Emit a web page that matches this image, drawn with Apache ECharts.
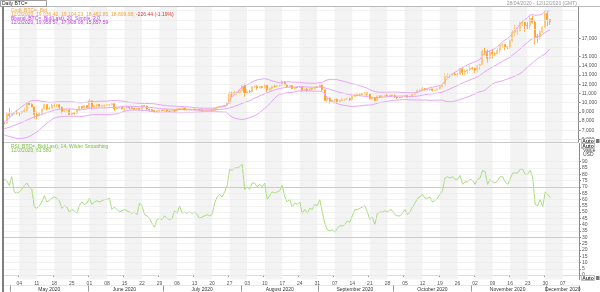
<!DOCTYPE html>
<html><head><meta charset="utf-8">
<script src="https://cdn.jsdelivr.net/npm/echarts@6/dist/echarts.min.js"></script>
<style>html,body{margin:0;padding:0;background:#fff}#c{width:600px;height:292px}</style>
</head><body><div id="c"></div>
<script>
// ---------- data ----------
const firstDay = '2020-04-28';
const dayCount = 230; // axis runs to 2020-12-13
const opens = [
7770,7760,8780,8620,8830,8970,8890,8880,9020,9150,
9980,9810,9540,8730,8570,8820,9320,9790,9310,9380,
9680,9730,9780,9510,9060,9170,9180,8720,8900,8840,
9200,9580,9430,9700,9450,10200,9520,9660,9800,9620,
9670,9750,9780,9780,9880,9320,9460,9470,9340,9430,
9530,9450,9390,9290,9360,9290,9690,9630,9300,9250,
9160,9010,9120,9190,9140,9230,9090,9070,9130,9090,
9340,9250,9430,9240,9290,9240,9300,9240,9260,9200,
9130,9160,9180,9210,9160,9390,9540,9610,9550,9710,
9930,11030,10940,11110,11110,11350,11800,11070,11230,11190,
11740,11770,11600,11760,11680,11880,11410,11580,11780,11770,
11860,11910,12280,11950,11750,11870,11520,11680,11650,11750,
11320,11470,11320,11530,11480,11710,11680,11970,11410,10250,
10510,10170,10280,10370,10130,10240,10360,10400,10440,10330,
10680,10790,10950,10940,10930,11080,10920,10420,10540,10240,
10740,10690,10730,10770,10710,10840,10780,10620,10570,10550,
10670,10790,10600,10670,10920,11060,11300,11380,11550,11430,
11430,11500,11330,11370,11510,11760,11920,12820,12970,12930,
13120,13030,13070,13640,13270,13460,13560,13780,13740,13550,
14020,14150,15590,15580,14830,15480,15330,15300,15700,16280,
16320,16070,15960,16730,17660,17800,17810,18680,18710,18420,
18370,19160,18740,17150,17140,17720,18180,19700,19036.42];
const highs = [
7790,8950,9460,9060,9010,9190,8950,9080,9400,10020,
10040,9920,9570,9030,8950,9340,9900,9840,9590,9880,
9950,9860,9840,9570,9260,9300,9310,8980,9010,9220,
9620,9610,9740,9700,10430,10230,9690,9880,9850,9740,
9800,9800,9870,9970,9950,9550,9490,9490,9500,9580,
9560,9480,9440,9400,9410,9750,9700,9680,9330,9280,
9200,9190,9230,9200,9300,9260,9120,9190,9140,9360,
9360,9460,9440,9310,9300,9340,9340,9280,9270,9210,
9190,9200,9240,9220,9410,9550,9630,9640,9730,10090,
11240,11180,11320,11180,11430,11860,12060,11470,11400,11790,
11900,11900,11800,11800,12070,11940,11630,11790,11930,11950,
11940,12430,12340,12030,11900,11880,11690,11700,11800,11750,
11530,11580,11550,11580,11720,11770,12070,11980,11430,10630,
10570,10340,10400,10440,10350,10500,10410,10480,10550,10790,
10930,11100,11040,11030,11180,11080,10990,10560,10550,10760,
10770,10790,10800,10950,10860,10850,10930,10660,10600,10690,
10800,10800,10690,10950,11110,11490,11440,11720,11560,11540,
11630,11540,11400,11530,11820,11990,13200,13180,13030,13160,
13340,13240,13770,13850,13620,13680,14090,13890,13810,14070,
14240,15750,15960,15770,15650,15830,15460,15960,16340,16480,
16330,16120,16880,17860,18480,18150,18800,18950,18750,18770,
19420,19480,18920,17460,17880,18320,19860,19920,19104.23];
const lows = [
7660,7740,8420,8620,8760,8710,8540,8790,8950,9040,
9720,9520,8270,8200,8560,8790,9270,9140,9230,9330,
9470,9490,9300,8820,8940,9080,8700,8640,8700,8810,
9110,9330,9350,9410,9410,9270,9400,9460,9580,9560,
9380,9640,9570,9690,9100,9230,9350,9250,8990,9370,
9260,9280,9240,9190,9280,9280,9600,9240,9010,9040,
8870,8950,9020,9090,9090,8970,9040,9050,8930,9060,
9220,9230,9170,9120,9190,9160,9200,9110,9170,9010,
9090,9120,9130,9090,9150,9290,9480,9480,9540,9690,
9920,10610,10880,10840,10990,11230,10650,11000,11050,11100,
11600,11370,11550,11550,11520,11140,11160,11280,11660,11710,
11700,11800,11880,11600,11680,11510,11400,11540,11620,11160,
11260,11170,11290,11440,11470,11600,11650,11200,10180,9960,
9880,10050,9910,9900,10000,10200,10200,10300,10210,10250,
10640,10690,10740,10810,10900,10780,10370,10360,10160,10210,
10560,10650,10640,10680,10640,10680,10530,10380,10520,10520,
10630,10540,10570,10540,10830,11050,11250,11250,11300,11280,
11300,11220,11300,11350,11420,11690,11900,12720,12730,12900,
12920,12790,13060,12950,12990,13130,13430,13610,13220,13290,
13530,14100,15200,14350,14720,14810,15090,15290,15440,15990,
15700,15800,15880,16570,17220,17340,17760,18340,17700,18000,
18020,18580,16330,16480,16880,17560,18180,18330,18462.85];
const closes = [
7760,8780,8620,8830,8970,8890,8880,9020,9150,9980,
9810,9540,8730,8570,8820,9320,9790,9310,9380,9680,
9730,9780,9510,9060,9170,9180,8720,8900,8840,9200,
9580,9430,9700,9450,10200,9520,9660,9800,9620,9670,
9750,9780,9780,9880,9320,9460,9470,9340,9430,9530,
9450,9390,9290,9360,9290,9690,9630,9300,9250,9160,
9010,9120,9190,9140,9230,9090,9070,9130,9090,9340,
9250,9430,9240,9290,9240,9300,9240,9260,9200,9130,
9160,9180,9210,9160,9390,9540,9610,9550,9710,9930,
11030,10940,11110,11110,11350,11800,11070,11230,11190,11740,
11770,11600,11760,11680,11880,11410,11580,11780,11770,11860,
11910,12280,11950,11750,11870,11520,11680,11650,11750,11320,
11470,11320,11530,11480,11710,11680,11970,11410,10250,10510,
10170,10280,10370,10130,10240,10360,10400,10440,10330,10680,
10790,10950,10940,10930,11080,10920,10420,10540,10240,10740,
10690,10730,10770,10710,10840,10780,10620,10570,10550,10670,
10790,10600,10670,10920,11060,11300,11380,11550,11430,11430,
11500,11330,11370,11510,11760,11920,12820,12970,12930,13120,
13030,13070,13640,13270,13460,13560,13780,13740,13550,14020,
14150,15590,15580,14830,15480,15330,15300,15700,16280,16320,
16070,15960,16730,17660,17800,17810,18680,18710,18420,18370,
19160,18740,17150,17140,17720,18180,19700,19036.42,18809.98];
const bbUpper = [
7829,8083,8331,8589,8872,9143,9355,9595,9757,9984,
10120,10233,10248,10254,10219,10121,10125,10073,10037,10032,
10052,10080,10105,10106,10106,10105,10103,10087,10061,10012,
9991,9979,10020,10058,10147,10123,10110,10141,10157,10160,
10167,10167,10187,10236,10235,10233,10211,10173,10142,10099,
10030,10010,9980,9965,9910,9922,9927,9912,9903,9894,
9873,9838,9788,9731,9707,9668,9654,9648,9627,9605,
9591,9589,9571,9551,9535,9499,9462,9440,9417,9400,
9397,9400,9403,9408,9424,9471,9540,9591,9662,9751,
10280,10576,10889,11140,11406,11699,11822,11951,12070,12231,
12383,12472,12530,12576,12600,12564,12472,12384,12307,12243,
12147,12234,12246,12258,12274,12240,12231,12222,12224,12179,
12144,12130,12122,12116,12112,12133,12183,12174,12378,12471,
12540,12544,12525,12494,12432,12370,12296,12220,12129,12067,
12013,11944,11855,11767,11676,11576,11420,11297,11216,11168,
11140,11136,11132,11141,11151,11156,11151,11142,11135,11116,
11104,11087,11069,11077,11088,11131,11229,11339,11449,11533,
11628,11684,11740,11814,11894,11999,12337,12637,12896,13118,
13294,13454,13662,13810,13950,14083,14223,14338,14432,14558,
14694,15083,15394,15500,15646,15746,15880,16077,16344,16584,
16798,16981,17195,17535,17852,18150,18509,18818,19041,19229,
19493,19587,19505,19521,19553,19653,19975,20002,19958.57];
const bbMiddle = [
7169,7243,7331,7429,7532,7633,7735,7855,7957,8104,
8232,8353,8448,8534,8619,8711,8825,8913,8997,9092,
9190,9240,9285,9296,9306,9321,9313,9307,9291,9252,
9241,9235,9284,9328,9397,9407,9400,9425,9437,9436,
9437,9437,9451,9492,9499,9513,9551,9573,9602,9619,
9612,9610,9590,9585,9540,9548,9547,9522,9503,9478,
9441,9408,9378,9341,9337,9318,9298,9288,9271,9261,
9251,9253,9251,9247,9245,9225,9206,9204,9201,9200,
9207,9210,9211,9212,9220,9243,9270,9291,9322,9351,
9440,9516,9609,9700,9806,9931,10022,10121,10220,10351,
10481,10602,10730,10856,10980,11074,11172,11284,11387,11483,
11527,11594,11636,11668,11694,11680,11711,11732,11760,11739,
11724,11710,11698,11688,11680,11693,11713,11694,11618,11551,
11464,11364,11285,11204,11122,11064,11000,10940,10869,10837,
10803,10784,10755,10727,10696,10658,10580,10537,10536,10548,
10574,10596,10616,10645,10675,10696,10707,10714,10725,10724,
10724,10707,10693,10693,10692,10711,10759,10809,10869,10903,
10944,10974,11004,11044,11090,11147,11257,11377,11496,11618,
11730,11854,12002,12120,12240,12353,12473,12582,12688,12818,
12950,13163,13374,13540,13726,13896,14020,14157,14324,14484,
14636,14781,14935,15155,15372,15584,15829,16078,16321,16539,
16789,16947,17025,17141,17253,17395,17615,17782,17908.08];
const bbLower = [
6509,6403,6331,6269,6192,6123,6115,6115,6157,6224,
6344,6473,6648,6814,7019,7301,7525,7753,7957,8152,
8328,8400,8465,8486,8506,8537,8523,8527,8521,8492,
8491,8491,8548,8598,8647,8691,8690,8709,8717,8712,
8707,8707,8715,8748,8763,8793,8891,8973,9062,9139,
9194,9210,9200,9205,9170,9174,9167,9132,9103,9062,
9009,8978,8968,8951,8967,8968,8942,8928,8915,8917,
8911,8917,8931,8943,8955,8951,8950,8968,8985,9000,
9017,9020,9019,9016,9016,9015,9000,8991,8982,8951,
8600,8456,8329,8260,8206,8163,8222,8291,8370,8471,
8579,8732,8930,9136,9360,9584,9872,10184,10467,10723,
10907,10954,11026,11078,11114,11120,11191,11242,11296,11299,
11304,11290,11274,11260,11248,11253,11243,11214,10858,10631,
10388,10184,10045,9914,9812,9758,9704,9660,9609,9607,
9593,9624,9655,9687,9716,9740,9740,9777,9856,9928,
10008,10056,10100,10149,10199,10236,10263,10286,10315,10332,
10344,10327,10317,10309,10296,10291,10289,10279,10289,10273,
10260,10264,10268,10274,10286,10295,10177,10117,10096,10118,
10166,10254,10342,10430,10530,10623,10723,10826,10944,11078,
11206,11243,11354,11580,11806,12046,12160,12237,12304,12384,
12474,12581,12675,12775,12892,13018,13149,13338,13601,13849,
14085,14307,14545,14761,14953,15137,15255,15562,15857.59];
const rsi = [
76,75,71,78,66,65,66,68,71,73,
70,68,54,53,55,58,63,58,59,61,
62,61,59,53,55,54,50,52,51,49,
55,58,56,57,61,56,58,59,58,59,
60,60,61,52,54,52,50,51,52,51,
50,49,50,48,57,55,48,47,45,41,
38,44,45,44,47,45,44,45,51,49,
55,49,50,49,50,49,50,48,45,46,
47,48,47,48,57,62,64,62,66,71,
84,83,85,85,86,88,68,70,68,73,
73,70,72,70,73,60,63,66,65,66,
67,71,62,58,60,54,57,56,58,49,
52,49,53,52,56,55,60,50,41,36,
35,36,34,37,39,39,40,43,42,47,
52,52,53,54,55,50,44,46,40,49,
50,50,51,50,52,51,48,47,47,49,
52,48,50,54,57,61,62,64,61,61,
62,58,59,61,64,67,77,78,77,78,
76,76,79,72,74,74,76,75,72,76,
77,83,82,72,76,74,73,75,78,78,
74,72,76,81,81,81,84,84,80,80,
83,78,56,55,60,54,66,64,61.58];
const priceTickLabels = [6000,7000,8000,9000,10000,11000,12000,13000,14000,15000,17000];
const priceGridLines = [6000,7000,8000,9000,10000,11000,12000,13000,14000,15000,16000,17000,18000,19000,20000];
const rsiTickLabels = [0,5,10,15,20,25,30,35,40,45,50,55,60,65,70,75,80,85,90];
const rsiLevels = [70,30];
const monthNames = ['January','February','March','April','May','June','July','August','September','October','November','December'];

// ---------- derived structures ----------
const categories = [];
const t0 = Date.parse(firstDay + 'T00:00:00Z');
for (let i = 0; i < dayCount; i++) categories.push(new Date(t0 + i * 86400000).toISOString().slice(0, 10));
const isMonday = v => new Date(v + 'T00:00:00Z').getUTCDay() === 1;
const firstShadeIdx = categories.indexOf('2020-05-04');
const shadeAreas = [];
for (let i = firstShadeIdx; i < categories.length; i += 14) {
  shadeAreas.push([{xAxis: categories[i]}, {xAxis: categories[Math.min(i + 7, categories.length - 1)]}]);
}
const monthMid = new Set();
(function () {
  const groups = {};
  categories.forEach((c, i) => { const k = c.slice(0, 7); (groups[k] = groups[k] || []).push(i); });
  Object.values(groups).forEach(g => { if (g.length >= 7) monthMid.add(g[Math.floor((g.length - 1) / 2)]); });
})();
const ohlc = opens.map((o, i) => [o, closes[i], lows[i], highs[i]]);
const last = closes.length - 1;
const fmt2 = v => v.toLocaleString('en-US', {minimumFractionDigits: 2, maximumFractionDigits: 2});
const FONT = '"Liberation Sans", Arial, sans-serif';
const PURPLE_TAG = '#b32de6';
const BB_COLOR = '#e8a4f7';
const RSI_COLOR = '#a9de7c';
const SHADE = {color: '#f3f3f3', opacity: 1};

function tag(value, bg, fg, text) {
  return {
    yAxis: value,
    lineStyle: {opacity: 0},
    label: {show: true, position: 'end', distance: 2, formatter: text, backgroundColor: bg, color: fg,
            fontSize: 5, fontFamily: FONT, padding: [1, 2, 0, 2], lineHeight: 5}
  };
}
function grid(values, color) {
  return values.map(v => ({yAxis: v, lineStyle: {color: color, width: 0.6, type: 'solid'}, label: {show: false}}));
}
function bbSeries(name, data, tagText, withShade) {
  const s = {
    name, type: 'line', xAxisIndex: 0, yAxisIndex: 0, data, showSymbol: false, symbol: 'none', silent: true,
    lineStyle: {color: BB_COLOR, width: 1}, z: 4,
    markLine: {symbol: ['none', 'none'], silent: true, animation: false, data: [tag(data[last], PURPLE_TAG, '#fff', tagText)]}
  };
  if (withShade) s.markArea = {silent: true, itemStyle: SHADE, data: shadeAreas};
  return s;
}

const chart = echarts.init(document.getElementById('c'), null, {renderer: 'canvas'});
const axisLabelBase = {fontSize: 5, fontFamily: FONT, color: '#555'};
const G = {silent: true, z: 100};
function txt(x, y, text, fill, extra) {
  return Object.assign({type: 'text', x, y, style: Object.assign({text, fill, fontSize: 5, fontFamily: FONT, verticalAlign: 'middle'}, extra || {})}, G);
}
chart.setOption({
  animation: false,
  backgroundColor: '#fff',
  grid: [
    {left: 3, right: 21, top: 7, height: 135},
    {left: 3, right: 21, top: 143.5, height: 137.5}
  ],
  xAxis: [
    {type: 'category', gridIndex: 0, data: categories, boundaryGap: true,
     axisLine: {show: true, lineStyle: {color: '#c8c8c8', width: 1}}, axisTick: {show: false}, axisLabel: {show: false}, splitLine: {show: false}},
    {type: 'category', gridIndex: 1, data: categories, boundaryGap: true,
     axisLine: {show: true, lineStyle: {color: '#c8c8c8', width: 1}},
     axisTick: {show: true, interval: (i, v) => isMonday(v), length: 2, lineStyle: {color: '#999'}},
     axisLabel: Object.assign({interval: (i, v) => isMonday(v), formatter: v => v.slice(8, 10), margin: 2}, axisLabelBase),
     splitLine: {show: false}},
    {type: 'category', gridIndex: 1, data: categories, boundaryGap: true, position: 'bottom', offset: 6,
     axisLine: {show: true, lineStyle: {color: '#d8d8d8', width: 0.6}},
     axisTick: {show: true, interval: (i, v) => v.slice(8, 10) === '01', length: 6, lineStyle: {color: '#999'}},
     axisLabel: Object.assign({}, axisLabelBase, {interval: (i) => monthMid.has(i), color: '#333', margin: 1.5,
       formatter: v => monthNames[+v.slice(5, 7) - 1] + ' ' + v.slice(0, 4)}),
     splitLine: {show: false}}
  ],
  yAxis: [
    {type: 'value', gridIndex: 0, position: 'right', min: 5728, max: 20402, scale: true,
     axisLine: {show: true, lineStyle: {color: '#8a8a8a'}},
     axisTick: {show: true, length: 2, customValues: priceTickLabels, lineStyle: {color: '#8a8a8a'}},
     axisLabel: Object.assign({customValues: priceTickLabels, formatter: v => v.toLocaleString('en-US'), margin: 3}, axisLabelBase),
     splitLine: {show: false}},
    {type: 'value', gridIndex: 1, position: 'right', min: -3.5, max: 104.4,
     axisLine: {show: true, lineStyle: {color: '#8a8a8a'}},
     axisTick: {show: true, length: 2, customValues: rsiTickLabels, lineStyle: {color: '#8a8a8a'}},
     axisLabel: Object.assign({customValues: rsiTickLabels, margin: 3}, axisLabelBase),
     splitLine: {show: false}}
  ],
  series: [
    {name: 'Cndl', type: 'candlestick', xAxisIndex: 0, yAxisIndex: 0, data: ohlc, barWidth: 1.6, silent: true, z: 3,
     itemStyle: {color: '#ffd7a1', color0: '#ff9d1f', borderColor: '#ffc06c', borderColor0: '#ff9d1f', borderWidth: 0.8},
     markLine: {symbol: ['none', 'none'], silent: true, animation: false,
       data: grid(priceGridLines, '#e9e9e9').concat([tag(closes[last], '#ff9900', '#1a1a1a', fmt2(closes[last]))])}},
    bbSeries('Upper', bbUpper, fmt2(bbUpper[last]), true),
    bbSeries('Middle', bbMiddle, fmt2(bbMiddle[last]), false),
    bbSeries('Lower', bbLower, fmt2(bbLower[last]), false),
    {name: 'RSI', type: 'line', xAxisIndex: 1, yAxisIndex: 1, data: rsi, showSymbol: false, symbol: 'none', silent: true,
     lineStyle: {color: RSI_COLOR, width: 1}, z: 4,
     markArea: {silent: true, itemStyle: SHADE, data: shadeAreas},
     markLine: {symbol: ['none', 'none'], silent: true, animation: false,
       data: grid(rsiTickLabels, '#e9e9e9')
         .concat(rsiLevels.map(v => ({yAxis: v, lineStyle: {color: '#b6e28c', width: 1.2, type: 'solid'}, label: {show: false}})))
         .concat([tag(rsi[last], '#66c21c', '#fff', rsi[last].toFixed(3))])}}
  ],
  graphic: [
    Object.assign({type: 'line', shape: {x1: 0, y1: 6.5, x2: 600, y2: 6.5}, style: {stroke: '#a8a8a8', lineWidth: 0.8}}, G),
    Object.assign({type: 'line', shape: {x1: 3, y1: 6.5, x2: 3, y2: 292}, style: {stroke: '#555', lineWidth: 1.5}}, G),
    Object.assign({type: 'rect', shape: {x: 0.5, y: 0.5, width: 46, height: 6}, style: {fill: '#fff', stroke: '#888', lineWidth: 0.8}}, G),
    txt(2, 3.7, 'Daily BTC=', '#222'),
    txt(577, 3.5, '28/04/2020 - 12/12/2020 (GMT)', '#999', {align: 'right'}),
    txt(11, 10.3, 'Cndl, BTC=, Bid', '#f3a33a'),
    txt(11, 14.5, '{a|12/2/2020, 19,036.42, 19,104.23, 18,462.85, 18,809.98, }{b|-226.44 (-1.19%)}', '#f3a33a',
        {rich: {a: {fill: '#f3a33a', fontSize: 5, fontFamily: FONT}, b: {fill: '#e8332c', fontSize: 5, fontFamily: FONT}}}),
    txt(11, 18.7, 'Bband, BTC=, Bid(Last), 20, Simple, 2.0', '#c03ce6'),
    txt(11, 22.9, '12/2/2020, 19,958.57, 17,908.08, 15,857.59', '#c03ce6'),
    txt(11, 146.8, 'RSI, BTC=, Bid(Last), 14, Wilder Smoothing', '#7cc43f'),
    txt(11, 150.8, '12/2/2020, 61.580', '#7cc43f'),
    txt(583, 150.5, 'Value', '#444'),
    txt(583, 155, 'USD', '#444'),
    Object.assign({type: 'rect', shape: {x: 581.5, y: 138.5, width: 13, height: 5}, style: {fill: '#fff', stroke: '#999', lineWidth: 0.6}}, G),
    txt(588, 141.2, 'Auto', '#333', {align: 'center', fontWeight: 'bold'}),
    Object.assign({type: 'rect', shape: {x: 596, y: 139, width: 3.5, height: 4}, style: {fill: '#777'}}, G),
    Object.assign({type: 'rect', shape: {x: 581.5, y: 143.5, width: 13, height: 5}, style: {fill: '#fff', stroke: '#999', lineWidth: 0.6}}, G),
    txt(588, 146.2, 'Auto', '#333', {align: 'center', fontWeight: 'bold'}),
    Object.assign({type: 'rect', shape: {x: 581.5, y: 275.5, width: 13, height: 5}, style: {fill: '#fff', stroke: '#999', lineWidth: 0.6}}, G),
    txt(588, 278.2, 'Auto', '#333', {align: 'center', fontWeight: 'bold'}),
    Object.assign({type: 'rect', shape: {x: 596, y: 276, width: 3.5, height: 4}, style: {fill: '#777'}}, G)
  ]
});
</script></body></html>
